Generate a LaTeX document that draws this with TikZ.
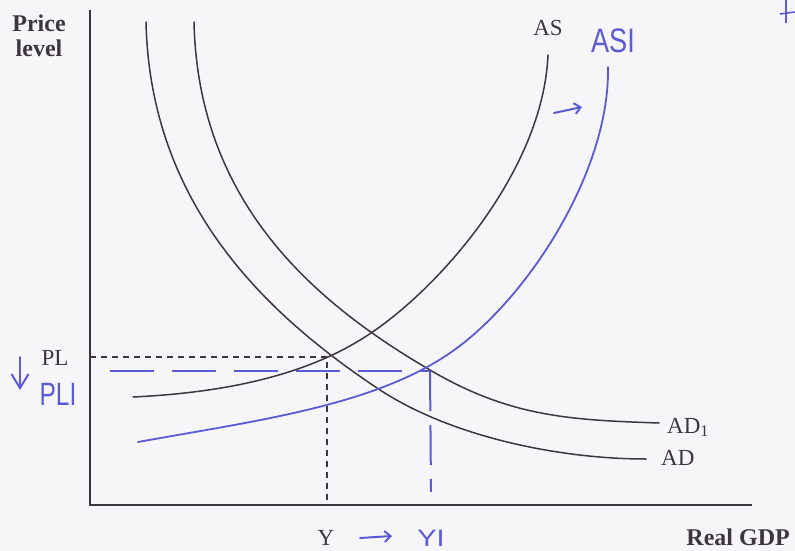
\documentclass[tikz,border=0pt]{standalone}
\usepackage{fontspec}
\setmainfont{Liberation Serif}
\newfontfamily\hand{Liberation Sans}
\usetikzlibrary{arrows.meta}
\definecolor{ink}{HTML}{3D3641}
\definecolor{pen}{HTML}{5B5BD6}
\definecolor{paper}{HTML}{F6F6F9}
\begin{document}
\begin{tikzpicture}[x=1pt,y=-1pt,
  axis/.style={ink, line width=2pt},
  curve/.style={ink, line width=1.5pt, line cap=round},
  bluecurve/.style={pen, line width=1.8pt, line cap=round},
  guide/.style={ink, line width=1.2pt, dash pattern=on 6pt off 5pt},
  blueguide/.style={pen, line width=2.4pt, dash pattern=on 44pt off 18pt},
  lbl/.style={text=ink, font=\fontsize{23}{23}\selectfont, inner sep=0pt},
  blbl/.style={text=ink, font=\bfseries\fontsize{24}{25}\selectfont, inner sep=0pt},
  hw/.style={text=pen, font=\hand\fontsize{34}{34}\selectfont, inner sep=0pt},
  handarrow/.style={pen, line width=2pt, line cap=round, -{Straight Barb[length=6pt,width=11pt]}}]
\useasboundingbox[fill=paper] (0,0) rectangle (795,551);

% axes
\coordinate (top) at (90,10);
\coordinate (O) at (90,505);
\coordinate (xend) at (752,505);
\draw[axis] (top) -- (O) -- (xend);

% AD
\draw[curve] (146,22) .. controls (150,200) and (260,310) .. (377,388)
  .. controls (450,437) and (560,459) .. (646,459);
% AD1
\draw[curve] (194,22) .. controls (198,200) and (310,300) .. (430,370)
  .. controls (510,417) and (570,420) .. (659,423);
% AS
\draw[curve] (133,397) .. controls (240,392) and (315,370) .. (368,335)
  .. controls (440,288) and (543,170) .. (548,55);
% AS1
\draw[bluecurve] (138,442) .. controls (260,420) and (380,405) .. (457,348)
  .. controls (530,294) and (610,170) .. (608,67);

% equilibria
\coordinate (E) at (327,357);
\coordinate (E1) at (430,371);
\coordinate (plax) at (90,357);
\coordinate (yax) at (327,505);
\coordinate (pl1ax) at (110,371);
\coordinate (y1ax) at (431,492);
\draw[guide] (plax) -- (E) -- (yax);
\draw[blueguide] (pl1ax) -- (E1);
\draw[pen, line width=2pt, dash pattern=on 40pt off 14pt] (E1) -- (y1ax);

% labels
\node[blbl, align=center] (plabel) at (39,36) {Price\\level};
\node[blbl, anchor=base east] (xlabel) at (790,545) {Real GDP};
\node[lbl, anchor=base] (as) at (548,36) {AS};
\node[lbl, anchor=base west] (ad1) at (667,433) {AD\textsubscript{1}};
\node[lbl, anchor=base west] (ad) at (661,465) {AD};
\node[lbl, anchor=base] (pl) at (55,365) {PL};
\node[lbl, anchor=base] (y) at (326,545) {Y};

% handwritten
\node[hw, anchor=base, xscale=0.8] (as1) at (613,53) {ASI};
\node[hw, anchor=base, xscale=0.72, yscale=0.95] (pl1) at (58,405) {PLI};
\node[hw, anchor=base, xscale=0.85, yscale=0.7] (y1) at (431,546) {YI};
\coordinate (a1s) at (554,113);
\coordinate (a1e) at (582,107);
\draw[handarrow] (a1s) -- (a1e);
\coordinate (a2s) at (360,538);
\coordinate (a2e) at (392,536);
\draw[handarrow] (a2s) -- (a2e);
\coordinate (a3s) at (20,357);
\coordinate (a3e) at (20,390);
\draw[pen, line width=2pt, line cap=round, -{Straight Barb[length=14pt,width=17pt]}] (a3s) -- (a3e);
\draw[pen, line width=1.6pt] (786,0) -- (786,23) (780,14) -- (795,12);
\end{tikzpicture}
\end{document}
